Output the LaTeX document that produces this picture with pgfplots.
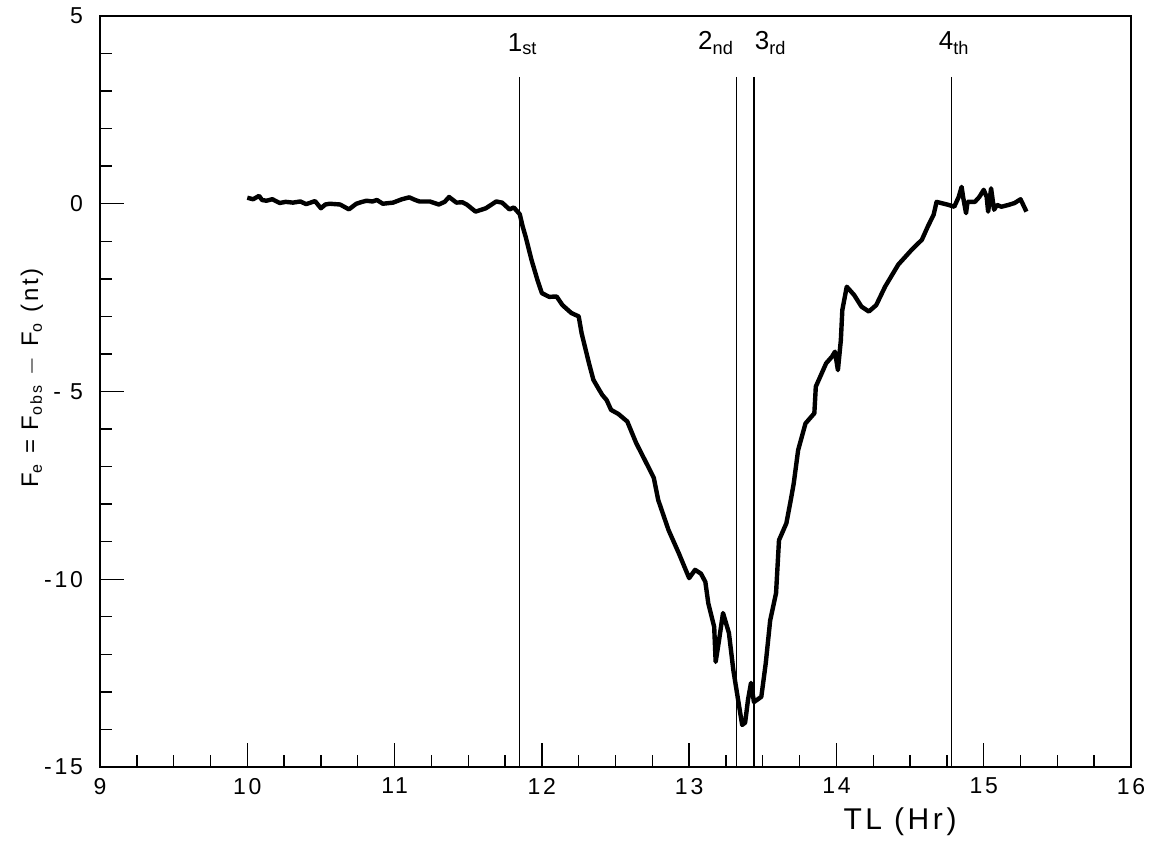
\documentclass[border=0pt]{standalone}
\usepackage{pgfplots}
\pgfplotsset{compat=1.18}
\usetikzlibrary{calc}
\usepackage{fontspec}
\setmainfont{Liberation Sans}
\newfontfamily\spaced{Liberation Sans}[LetterSpace=12]
\begin{document}
\begin{tikzpicture}
  \begin{axis}[
    scale only axis,
    width=515.5pt, height=375.5pt,
    xmin=9, xmax=16, ymin=-15, ymax=5,
    axis line style={line width=1.2pt},
    xtick={9,...,16},
    minor x tick num=3,
    ytick={-15,-10,-5,0,5},
    yticklabels={-15,-10,- 5,0,5},
    minor y tick num=4,
    tick align=inside,
    xtick pos=bottom, ytick pos=left,
    major tick length=12pt, minor tick length=6pt,
    tick style={line width=0.7pt, black},
    x tick label style={font=\spaced\fontsize{11.5}{13}\selectfont, yshift=-2pt},
    y tick label style={font=\spaced\fontsize{11.5}{13}\selectfont, xshift=-5pt},
    /pgf/number format/assume math mode=true,
    xlabel={TL (Hr)},
    xlabel style={font=\spaced\fontsize{15}{17}\selectfont, at={(rel axis cs:0.776,0)}, anchor=north, yshift=-17pt},
    ylabel={F\textsubscript{e} = F\textsubscript{obs} $-$ F\textsubscript{o} (nt)},
    ylabel style={font=\spaced\fontsize{12}{14}\selectfont, at={(rel axis cs:0,0.518)}, anchor=center, yshift=34pt},
  ]
    % vertical event markers
    \addplot[black, line width=0.6pt] coordinates {(11.85,3.38) (11.85,-15)};
    \addplot[black, line width=0.6pt] coordinates {(13.32,3.38) (13.32,-15)};
    \addplot[black, line width=0.6pt] coordinates {(13.44,3.38) (13.44,-15)};
    \addplot[black, line width=0.6pt] coordinates {(14.78,3.38) (14.78,-15)};
    \node[anchor=south, font=\fontsize{13}{15}\selectfont, inner sep=1pt] at (axis cs:11.87,3.9) {1\textsubscript{st}};
    \node[anchor=south east, font=\fontsize{13}{15}\selectfont, inner sep=1pt] at (axis cs:13.32,3.9) {2\textsubscript{nd}};
    \node[anchor=south west, font=\fontsize{13}{15}\selectfont, inner sep=1pt] at (axis cs:13.43,3.9) {3\textsubscript{rd}};
    \node[anchor=south, font=\fontsize{13}{15}\selectfont, inner sep=1pt] at (axis cs:14.80,3.9) {4\textsubscript{th}};

    % F_e trace
    \addplot[black, line width=2.2pt, line join=round] coordinates {
      (10.00,0.16) (10.04,0.12) (10.08,0.21) (10.10,0.10) (10.13,0.08) (10.17,0.12)
      (10.22,0.02) (10.26,0.05) (10.31,0.03) (10.36,0.06) (10.40,-0.01) (10.46,0.07)
      (10.50,-0.12) (10.53,-0.02) (10.56,0.00) (10.63,-0.02) (10.69,-0.15) (10.74,0.00)
      (10.78,0.05) (10.81,0.08) (10.85,0.06) (10.88,0.10) (10.92,0.00) (10.99,0.03)
      (11.05,0.12) (11.10,0.17) (11.14,0.10) (11.17,0.06) (11.24,0.06) (11.30,-0.02)
      (11.34,0.05) (11.37,0.18) (11.42,0.03) (11.46,0.04) (11.49,-0.02) (11.55,-0.21)
      (11.62,-0.12) (11.69,0.06) (11.73,0.03) (11.78,-0.15) (11.81,-0.10) (11.85,-0.28)
      (11.87,-0.61) (11.89,-0.88) (11.93,-1.50) (11.97,-2.03) (12.00,-2.38) (12.05,-2.48)
      (12.10,-2.47) (12.14,-2.70) (12.20,-2.91) (12.25,-3.00) (12.27,-3.45) (12.32,-4.25)
      (12.35,-4.69) (12.39,-4.96) (12.41,-5.09) (12.44,-5.23) (12.47,-5.49) (12.52,-5.60)
      (12.58,-5.80) (12.64,-6.37) (12.71,-6.91) (12.76,-7.30) (12.79,-7.89) (12.86,-8.69)
      (12.93,-9.31) (13.00,-9.97) (13.04,-9.75) (13.08,-9.85) (13.11,-10.07) (13.13,-10.64)
      (13.17,-11.27) (13.18,-12.20) (13.20,-11.70) (13.23,-10.90) (13.27,-11.43) (13.30,-12.42)
      (13.34,-13.40) (13.36,-13.88) (13.38,-13.82) (13.40,-13.20) (13.42,-12.76) (13.44,-13.27)
      (13.49,-13.13) (13.52,-12.24) (13.55,-11.10) (13.59,-10.37) (13.61,-8.96) (13.66,-8.51)
      (13.69,-7.89) (13.71,-7.45) (13.74,-6.56) (13.79,-5.85) (13.85,-5.58) (13.86,-4.87)
      (13.93,-4.25) (13.97,-4.07) (13.99,-3.94) (14.01,-4.43) (14.03,-3.63) (14.04,-2.83)
      (14.07,-2.21) (14.12,-2.43) (14.17,-2.74) (14.22,-2.87) (14.27,-2.70) (14.33,-2.21)
      (14.42,-1.62) (14.51,-1.23) (14.58,-0.96) (14.62,-0.61) (14.66,-0.29) (14.68,0.05)
      (14.71,0.02) (14.76,-0.03) (14.80,-0.08) (14.83,0.18) (14.85,0.45) (14.86,0.18)
      (14.88,-0.25) (14.89,0.05) (14.94,0.05) (14.97,0.18) (15.00,0.37) (15.02,0.18)
      (15.03,-0.21) (15.05,0.41) (15.07,-0.16) (15.09,-0.03) (15.12,-0.08) (15.17,-0.03)
      (15.21,0.02) (15.25,0.12) (15.29,-0.21)
    };
    \coordinate (sw) at (rel axis cs:0,0);
    \coordinate (ne) at (rel axis cs:1,1);
  \end{axis}
  \path (sw) ++(-50pt,-36pt) rectangle ($(ne)+(13pt,8pt)$);
\end{tikzpicture}
\end{document}
